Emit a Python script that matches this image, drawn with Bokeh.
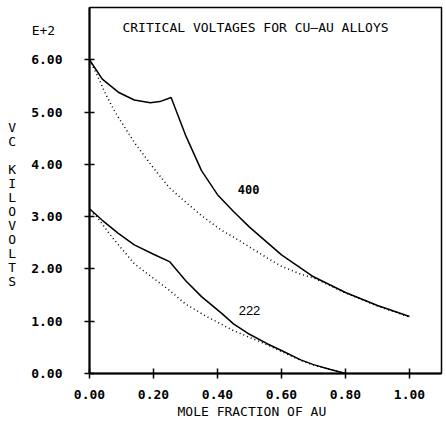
from bokeh.plotting import figure
from bokeh.models import Range1d, Label, Title, FixedTicker, PrintfTickFormatter
from bokeh.embed import file_html
from bokeh.resources import INLINE

# ---- data ----
x400 = [0.00, 0.04, 0.09, 0.14, 0.19, 0.22, 0.255, 0.30, 0.35, 0.40, 0.45, 0.50, 0.60, 0.70, 0.80, 0.90, 1.00]
y400 = [6.00, 5.63, 5.38, 5.23, 5.18, 5.20, 5.28, 4.56, 3.88, 3.42, 3.10, 2.80, 2.27, 1.85, 1.55, 1.30, 1.09]

x400_calc = [0.00, 0.02, 0.05, 0.08, 0.14, 0.20, 0.25, 0.30, 0.35, 0.41, 0.45, 0.55, 0.60, 0.66, 0.70, 0.80, 0.90, 1.00]
y400_calc = [6.00, 5.76, 5.35, 5.00, 4.42, 3.93, 3.55, 3.28, 3.02, 2.75, 2.61, 2.23, 2.05, 1.90, 1.83, 1.54, 1.29, 1.08]

x222 = [0.00, 0.04, 0.09, 0.14, 0.20, 0.25, 0.30, 0.35, 0.415, 0.45, 0.50, 0.555, 0.60, 0.66, 0.70, 0.75, 0.80]
y222 = [3.15, 2.93, 2.68, 2.46, 2.28, 2.14, 1.78, 1.47, 1.14, 0.95, 0.75, 0.57, 0.44, 0.26, 0.17, 0.08, 0.00]

x222_calc = [0.00, 0.02, 0.07, 0.14, 0.20, 0.25, 0.30, 0.36, 0.45, 0.555, 0.60, 0.66, 0.70, 0.80]
y222_calc = [3.10, 3.02, 2.61, 2.10, 1.82, 1.59, 1.33, 1.11, 0.82, 0.55, 0.42, 0.25, 0.16, 0.00]

x_ticks = [0.0, 0.2, 0.4, 0.6, 0.8, 1.0]
y_ticks = [0, 1, 2, 3, 4, 5, 6]
exp_text = "E+2"

title_text = "CRITICAL VOLTAGES FOR CU\u2013AU ALLOYS"
xlabel_text = "MOLE FRACTION OF AU"
ylabel_text = "VC KILOVOLTS"

MONO = "DejaVu Sans Mono"
W, H = 446, 433
NB = "\u00a0"

p = figure(width=W, height=H,
           x_range=Range1d(0, 1.1), y_range=Range1d(0, 7),
           output_backend="svg", toolbar_location=None,
           min_border_left=89, min_border_right=5, min_border_top=7, min_border_bottom=60)

p.grid.visible = False
p.outline_line_color = "black"
p.outline_line_width = 1.5

for ax in (p.xaxis[0], p.yaxis[0]):
    ax.axis_line_width = 2
    ax.axis_line_color = "black"
    ax.major_tick_in = 5
    ax.major_tick_out = 5
    ax.major_tick_line_width = 1.5
    ax.major_tick_line_color = "black"
    ax.minor_tick_line_color = None
    ax.major_label_text_font = MONO
    ax.major_label_text_font_style = "bold"
    ax.major_label_text_font_size = "13px"
    ax.major_label_text_color = "black"
    ax.formatter = PrintfTickFormatter(format="%.2f")

p.xaxis[0].ticker = FixedTicker(ticks=x_ticks)
p.yaxis[0].ticker = FixedTicker(ticks=y_ticks)
p.xaxis[0].major_label_standoff = 11
p.yaxis[0].major_label_standoff = 22

# y axis label block: exponent note on top, then the stacked letters
# (monospace lines padded to equal width so the columns line up)
COLS = 6
lines = [NB * 3 + exp_text] + [NB * COLS] * 6
lines += [(c if c != " " else NB) + NB * (COLS - 1) for c in ylabel_text]
lines += [NB * COLS] * 5

yax = p.yaxis[0]
if "axis_label_orientation" in yax.properties():
    yax.axis_label_orientation = "horizontal"
yax.axis_label = "\n".join(lines)
yax.axis_label_text_font = MONO
yax.axis_label_text_font_size = "13px"
yax.axis_label_text_font_style = "normal"
yax.axis_label_text_color = "black"
yax.axis_label_text_line_height = 0.93
yax.axis_label_standoff = -27

# curves
p.line(x400, y400, line_color="black", line_width=1.5)
p.line(x400_calc, y400_calc, line_color="black", line_width=1.5, line_dash="1 3")
p.line(x222, y222, line_color="black", line_width=1.5)
p.line(x222_calc, y222_calc, line_color="black", line_width=1.5, line_dash="1 3")

# in-plot texts
p.add_layout(Label(x=0.103, y=6.62, text=title_text, text_font=MONO, text_font_size="13px",
                   text_align="left", text_baseline="middle", text_color="black"))
p.add_layout(Label(x=0.497, y=3.52, text="400", text_font=MONO, text_font_style="bold",
                   text_font_size="12px", text_align="center", text_baseline="middle",
                   text_color="black"))
p.add_layout(Label(x=0.50, y=1.20, text="222", text_font="Liberation Sans",
                   text_font_size="13px", text_align="center", text_baseline="middle",
                   text_color="black"))

# x axis title
p.add_layout(Title(text=xlabel_text, align="left", offset=88, text_font=MONO,
                   text_font_size="13px", text_font_style="normal", text_color="black",
                   standoff=0), "below")

open("out.html", "w").write(file_html(p, INLINE))
